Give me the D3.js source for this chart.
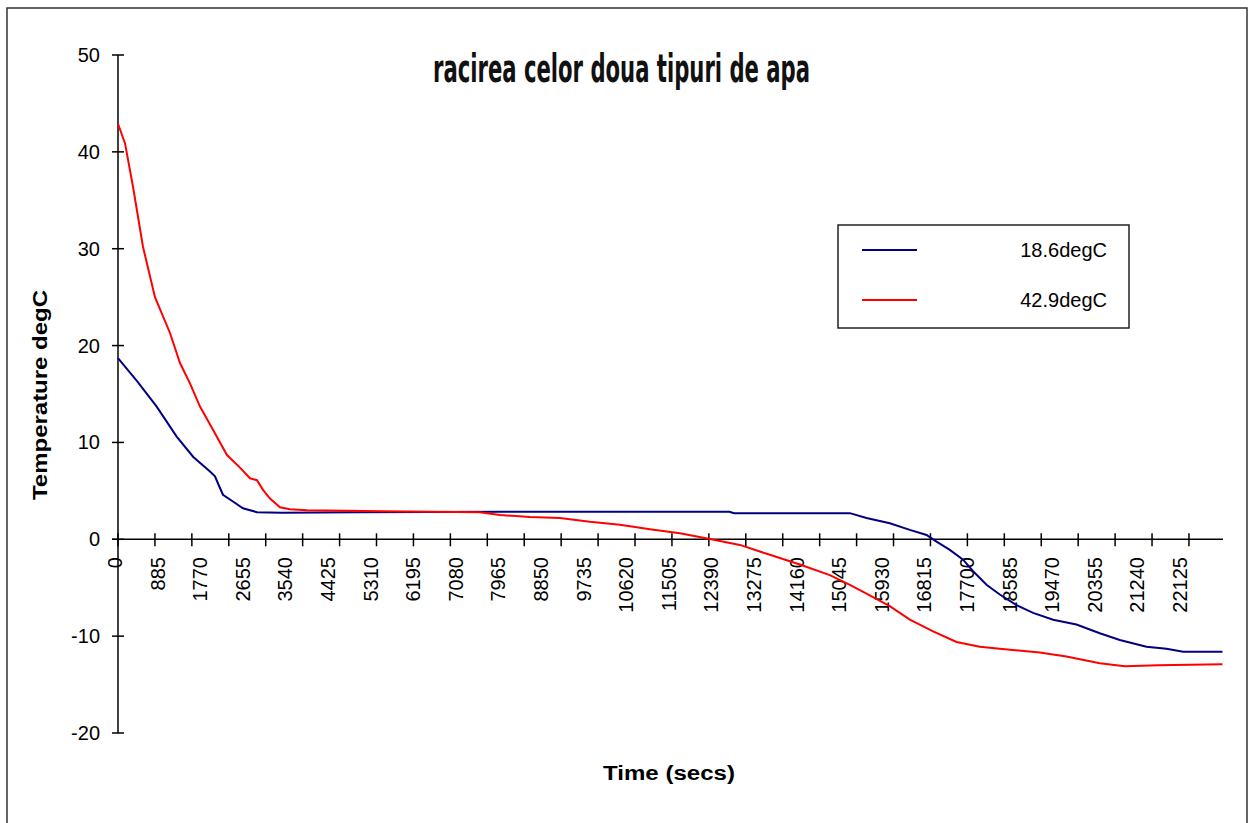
<html>
<head>
  <meta charset="utf-8"/>
  <title>racirea celor doua tipuri de apa</title>
  <style>
    body { margin: 0; background: #fff; }
    text { font-family: "Liberation Sans", Arial, sans-serif; fill: #000; }
  </style>
</head>
<body>
  <div id="chart"></div>
  <script src="https://d3js.org/d3.v7.min.js"></script>
  <script>

  // time (secs) and temperature (degC)
  var blueTime = [0, 400, 804, 1219, 1564, 1911, 2015, 2100, 2181, 2388, 2596, 2887, 3400, 5000, 8000, 10000, 12700, 12800, 15000, 15204, 15550, 16034, 16450, 16797, 17005, 17281, 17557, 17765, 18043, 18319, 18666, 19011, 19427, 19912, 20396, 20812, 21366, 21782, 22127, 22945];
  var blueTemp = [18.7, 16.3, 13.7, 10.6, 8.5, 7.0, 6.5, 5.5, 4.6, 3.9, 3.2, 2.8, 2.75, 2.8, 2.85, 2.85, 2.85, 2.7, 2.7, 2.7, 2.2, 1.66, 0.97, 0.45, -0.24, -1.1, -2.1, -3.3, -4.7, -5.7, -6.8, -7.6, -8.3, -8.8, -9.7, -10.4, -11.1, -11.3, -11.6, -11.6];

  var redTime = [0, 145, 312, 519, 768, 1080, 1288, 1495, 1703, 1973, 2264, 2534, 2742, 2887, 3012, 3158, 3365, 3572, 3926, 5500, 7519, 7934, 8557, 9180, 9803, 10427, 11050, 11673, 12296, 12919, 13542, 14165, 14788, 15204, 15550, 16034, 16450, 16934, 17420, 17904, 18319, 19150, 19704, 20396, 20915, 21607, 22945];
  var redTemp = [42.9, 40.9, 36.4, 30.2, 25.0, 21.3, 18.2, 16.1, 13.7, 11.3, 8.7, 7.4, 6.3, 6.1, 5.1, 4.2, 3.3, 3.1, 3.0, 2.9, 2.8, 2.5, 2.3, 2.2, 1.8, 1.5, 1.04, 0.63, 0.04, -0.58, -1.6, -2.6, -3.7, -4.7, -5.6, -6.9, -8.3, -9.5, -10.6, -11.1, -11.3, -11.7, -12.1, -12.8, -13.1, -13.0, -12.9];

  var seriesNames = ["18.6degC", "42.9degC"];
  var seriesColors = ["#000080", "#ff0000"];

  var yTicks = [-20, -10, 0, 10, 20, 30, 40, 50];
  var xLabels = [0, 885, 1770, 2655, 3540, 4425, 5310, 6195, 7080, 7965, 8850, 9735, 10620, 11505, 12390, 13275, 14160, 15045, 15930, 16815, 17700, 18585, 19470, 20355, 21240, 22125];
  var xTickStep = 767.2;
  var xMax = 22956;

  var width = 1257, height = 823;

  var svg = d3.select("#chart").append("svg")
    .attr("width", width)
    .attr("height", height);

  // outer frame
  svg.append("rect")
    .attr("x", 7).attr("y", 8)
    .attr("width", 1240).attr("height", 840)
    .attr("fill", "none")
    .attr("stroke", "#333")
    .attr("stroke-width", 1.5);

  var x = d3.scaleLinear().domain([0, xMax]).range([118, 1223]);
  var y = d3.scaleLinear().domain([-20, 50]).range([733, 55]);

  // title
  svg.append("text")
    .attr("x", 433).attr("y", 82)
    .attr("textLength", 377)
    .attr("lengthAdjust", "spacingAndGlyphs")
    .style("font-family", "'DejaVu Sans Condensed', 'DejaVu Sans', sans-serif")
    .style("font-weight", "bold")
    .style("font-size", "39px")
    .style("fill", "#111")
    .text("racirea celor doua tipuri de apa");

  // y axis
  svg.append("line")
    .attr("x1", x(0)).attr("x2", x(0))
    .attr("y1", y(50)).attr("y2", y(-20))
    .attr("stroke", "#000").attr("stroke-width", 1.5);

  svg.selectAll(".ytick").data(yTicks).enter().append("line")
    .attr("x1", x(0) - 6).attr("x2", x(0) + 6)
    .attr("y1", function(d){ return y(d); })
    .attr("y2", function(d){ return y(d); })
    .attr("stroke", "#000").attr("stroke-width", 1.5);

  svg.selectAll(".ylabel").data(yTicks).enter().append("text")
    .attr("x", 100)
    .attr("y", function(d){ return y(d); })
    .attr("dy", "0.35em")
    .attr("text-anchor", "end")
    .style("font-size", "20px")
    .text(function(d){ return d; });

  // x axis
  svg.append("line")
    .attr("x1", x(0) - 6).attr("x2", x(xMax))
    .attr("y1", y(0)).attr("y2", y(0))
    .attr("stroke", "#000").attr("stroke-width", 1.5);

  svg.selectAll(".xtick").data(d3.range(0, xMax, xTickStep)).enter().append("line")
    .attr("x1", function(d){ return x(d); })
    .attr("x2", function(d){ return x(d); })
    .attr("y1", y(0) - 6).attr("y2", y(0) + 7)
    .attr("stroke", "#000").attr("stroke-width", 1.5);

  svg.selectAll(".xlabel").data(xLabels).enter().append("text")
    .attr("transform", function(d){ return "translate(" + (x(d) - 3) + ",557) rotate(-90)"; })
    .attr("dy", "0.35em")
    .attr("text-anchor", "end")
    .style("font-size", "20px")
    .text(function(d){ return d; });

  // axis titles
  svg.append("text")
    .attr("transform", "translate(47,500) rotate(-90)")
    .attr("textLength", 210)
    .attr("lengthAdjust", "spacingAndGlyphs")
    .style("font-weight", "bold")
    .style("font-size", "20px")
    .text("Temperature degC");

  svg.append("text")
    .attr("x", 603).attr("y", 780)
    .attr("textLength", 132)
    .attr("lengthAdjust", "spacingAndGlyphs")
    .style("font-weight", "bold")
    .style("font-size", "20px")
    .text("Time (secs)");

  // lines
  var line = d3.line()
    .x(function(d){ return x(d[0]); })
    .y(function(d){ return y(d[1]); });

  var series = [d3.zip(blueTime, blueTemp), d3.zip(redTime, redTemp)];

  svg.selectAll(".series").data(series).enter().append("path")
    .attr("d", line)
    .attr("fill", "none")
    .attr("stroke", function(d, i){ return seriesColors[i]; })
    .attr("stroke-width", 2);

  // legend
  var legend = svg.append("g");
  legend.append("rect")
    .attr("x", 838).attr("y", 225)
    .attr("width", 291).attr("height", 103)
    .attr("fill", "#fff")
    .attr("stroke", "#222")
    .attr("stroke-width", 1.5);

  seriesNames.forEach(function(name, i){
    legend.append("line")
      .attr("x1", 862).attr("x2", 917)
      .attr("y1", 250 + i * 50).attr("y2", 250 + i * 50)
      .attr("stroke", seriesColors[i])
      .attr("stroke-width", 2);
    legend.append("text")
      .attr("x", 1107).attr("y", 250 + i * 50)
      .attr("dy", "0.35em")
      .attr("text-anchor", "end")
      .style("font-size", "20px")
      .text(name);
  });

  </script>
</body>
</html>
